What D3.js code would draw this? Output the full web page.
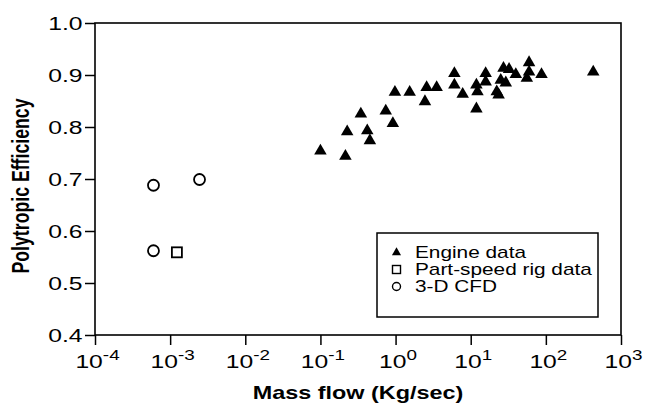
<!DOCTYPE html>
<html><head><meta charset="utf-8">
<script src="https://cdn.jsdelivr.net/npm/d3@7"></script>
<style>body{margin:0;background:#fff}svg{display:block}text{font-family:"Liberation Sans",Arial,Helvetica,sans-serif;fill:#000}</style>
</head><body><svg id="c" width="648" height="406"></svg>
<script>
const engineX = [0.1, 0.215, 0.227, 0.345, 0.42, 0.455, 0.74, 0.92, 0.98, 1.54, 2.46, 2.59, 3.52, 6.06, 6.06, 7.82, 11.9, 12.3, 11.9, 15.8, 15.8, 22.2, 23.5, 25.1, 27.3, 29.3, 32.4, 39.8, 55.8, 59.8, 59.8, 87.5, 427];
const engineY = [0.754, 0.744, 0.791, 0.825, 0.793, 0.774, 0.831, 0.807, 0.867, 0.867, 0.849, 0.876, 0.876, 0.903, 0.881, 0.863, 0.881, 0.868, 0.835, 0.903, 0.887, 0.868, 0.862, 0.890, 0.913, 0.885, 0.911, 0.901, 0.894, 0.924, 0.906, 0.901, 0.906];
const rigX = [0.00123];
const rigY = [0.559];
const cfdX = [0.0006, 0.00246, 0.0006];
const cfdY = [0.688, 0.699, 0.562];
const xTicks = [1e-4, 1e-3, 1e-2, 1e-1, 1e0, 1e1, 1e2, 1e3];
const xExp = ["-4", "-3", "-2", "-1", "0", "1", "2", "3"];
const yTicks = [0.4, 0.5, 0.6, 0.7, 0.8, 0.9, 1.0];
const legendLabels = ["Engine data", "Part-speed rig data", "3-D CFD"];
const xTitle = "Mass flow (Kg/sec)";
const yTitle = "Polytropic Efficiency";

const SX = 1.3; // horizontal stretch of the text in the reference
const svg = d3.select("#c");
const L = 95, R = 621, T = 23, B = 335;
const x = d3.scaleLog().domain([1e-4, 1e3]).range([L, R]);
const y = d3.scaleLinear().domain([0.4, 1.0]).range([B, T]);

// frame
svg.append("rect").attr("x", L).attr("y", T).attr("width", R - L).attr("height", B - T)
  .attr("fill", "none").attr("stroke", "#000").attr("stroke-width", 1.6);

// y axis
const ya = svg.append("g").attr("transform", `translate(${L},0)`)
  .call(d3.axisLeft(y).tickValues(yTicks).tickSize(10).tickFormat(d3.format(".1f")));
ya.select(".domain").remove();
ya.selectAll("line").attr("stroke", "#000").attr("stroke-width", 1.5);
ya.selectAll("text").attr("font-size", 19).attr("x", -12.5 / SX).attr("dy", "0.36em")
  .attr("transform", `scale(${SX},1)`).attr("fill", "#000");

// x axis
const xa = svg.append("g").attr("transform", `translate(0,${B})`)
  .call(d3.axisBottom(x).tickValues(xTicks).tickSize(10).tickFormat(""));
xa.select(".domain").remove();
xa.selectAll("line").attr("stroke", "#000").attr("stroke-width", 1.5);
xa.selectAll(".tick").each(function(d, i) {
  const t = d3.select(this).append("text").attr("y", 33).attr("text-anchor", "middle")
    .attr("font-size", 19).attr("transform", `translate(2,0) scale(${SX},1)`).attr("fill", "#000");
  t.append("tspan").text("10");
  t.append("tspan").attr("dy", -8).attr("font-size", 14.5).text(xExp[i]);
});

// titles
svg.append("text").attr("transform", `translate(358,399) scale(${SX},1)`)
  .attr("text-anchor", "middle").attr("font-size", 18).attr("font-weight", "bold").text(xTitle);
svg.append("text").attr("transform", `translate(29,186) scale(${SX},1) rotate(-90)`)
  .attr("text-anchor", "middle").attr("font-size", 17.7).attr("font-weight", "bold").text(yTitle);

// data
const eng = engineX.map((v, i) => [v, engineY[i]]);
svg.append("g").selectAll("path").data(eng).join("path")
  .attr("transform", d => `translate(${x(d[0])},${y(d[1])})`)
  .attr("d", d3.symbol(d3.symbolTriangle, 68)).attr("fill", "#000");
const rig = rigX.map((v, i) => [v, rigY[i]]);
svg.append("g").selectAll("rect").data(rig).join("rect")
  .attr("x", d => x(d[0]) - 5).attr("y", d => y(d[1]) - 5).attr("width", 10).attr("height", 10)
  .attr("fill", "#fff").attr("stroke", "#000").attr("stroke-width", 1.8);
const cfd = cfdX.map((v, i) => [v, cfdY[i]]);
svg.append("g").selectAll("circle").data(cfd).join("circle")
  .attr("cx", d => x(d[0])).attr("cy", d => y(d[1])).attr("r", 5.5)
  .attr("fill", "#fff").attr("stroke", "#000").attr("stroke-width", 1.8);

// legend
const lg = svg.append("g");
lg.append("rect").attr("x", 377).attr("y", 233).attr("width", 221).attr("height", 84)
  .attr("fill", "#fff").attr("stroke", "#000").attr("stroke-width", 1.5);
const rows = [252.5, 269.5, 286.5];
lg.append("path").attr("transform", `translate(396.5,${rows[0]})`)
  .attr("d", d3.symbol(d3.symbolTriangle, 36)).attr("fill", "#000");
lg.append("rect").attr("x", 392.5).attr("y", rows[1] - 4).attr("width", 8).attr("height", 8)
  .attr("fill", "#fff").attr("stroke", "#000").attr("stroke-width", 1.4);
lg.append("circle").attr("cx", 396.5).attr("cy", rows[2]).attr("r", 4)
  .attr("fill", "#fff").attr("stroke", "#000").attr("stroke-width", 1.4);
legendLabels.forEach((s, i) => {
  lg.append("text").attr("transform", `translate(415,${rows[i] + 5.5}) scale(${SX},1)`)
    .attr("font-size", 16).text(s);
});
</script></body></html>
